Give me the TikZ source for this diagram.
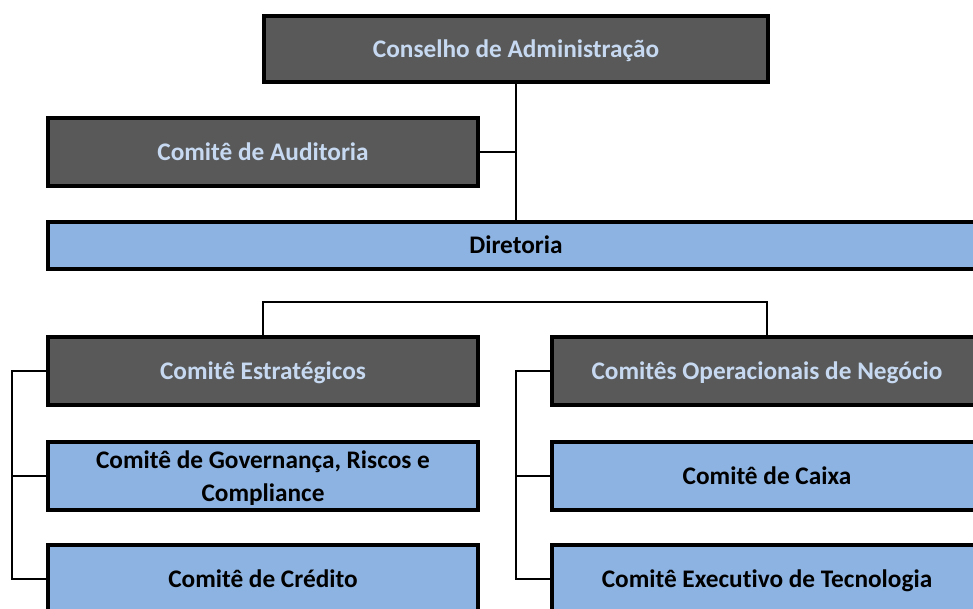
\documentclass[tikz,border=0pt]{standalone}
\usepackage{fontspec}
\setmainfont{Carlito}[Ligatures=NoCommon]
\definecolor{darkfill}{HTML}{595959}
\definecolor{darktext}{HTML}{C6D9F1}
\definecolor{bluefill}{HTML}{8DB3E2}
\begin{document}
\begin{tikzpicture}[x=1pt,y=-1pt,
  box/.style={draw=black, line width=4pt, inner sep=0pt, minimum width=430pt, minimum height=68pt,
    font=\fontsize{25.3}{33}\selectfont\bfseries, text height=16.3pt, text depth=0pt, align=center},
  darkbox/.style={box, fill=darkfill, text=darktext},
  bluebox/.style={box, fill=bluefill, text=black},
  conn/.style={draw=black, line width=2pt},
  lbl/.style={inner sep=0pt, font=\fontsize{25.3}{33}\selectfont\bfseries, anchor=base}]
\useasboundingbox (0,0) rectangle (973,608);
\clip (0,0) rectangle (973,608);
% boxes
\node[darkbox, minimum width=504pt, minimum height=66pt] (cons) at (516,49) {Conselho de Administração};
\node[darkbox] (aud) at (263,152) {Comitê de Auditoria};
\node[bluebox, minimum width=936pt, minimum height=47pt] (dir) at (516,245.5) {Diretoria};
\node[darkbox] (est) at (263,371) {Comitê Estratégicos};
\node[darkbox] (ope) at (767,371) {Comitês Operacionais de Negócio};
\node[bluebox] (gov) at (263,476) {};
\node[lbl] (govt1) at (263,468) {Comitê de Governança, Riscos e};
\node[lbl] (govt2) at (263,501) {Compliance};
\node[bluebox] (cai) at (767,476) {Comitê de Caixa};
\node[bluebox] (cre) at (263,579) {Comitê de Crédito};
\node[bluebox] (tec) at (767,579) {Comitê Executivo de Tecnologia};
% connectors
\draw[conn] (cons.south) -- (cons.south |- dir.north);
\draw[conn] (aud.east) -- (aud.east -| cons.south);
\draw[conn] (est.north) -- ++(0,-33) -| (ope.north);
\draw[conn] (est.west) -- ++(-34,0) |- (cre.west);
\draw[conn] (gov.west) -- ++(-34,0);
\draw[conn] (ope.west) -- ++(-34,0) |- (tec.west);
\draw[conn] (cai.west) -- ++(-34,0);
\end{tikzpicture}
\end{document}
